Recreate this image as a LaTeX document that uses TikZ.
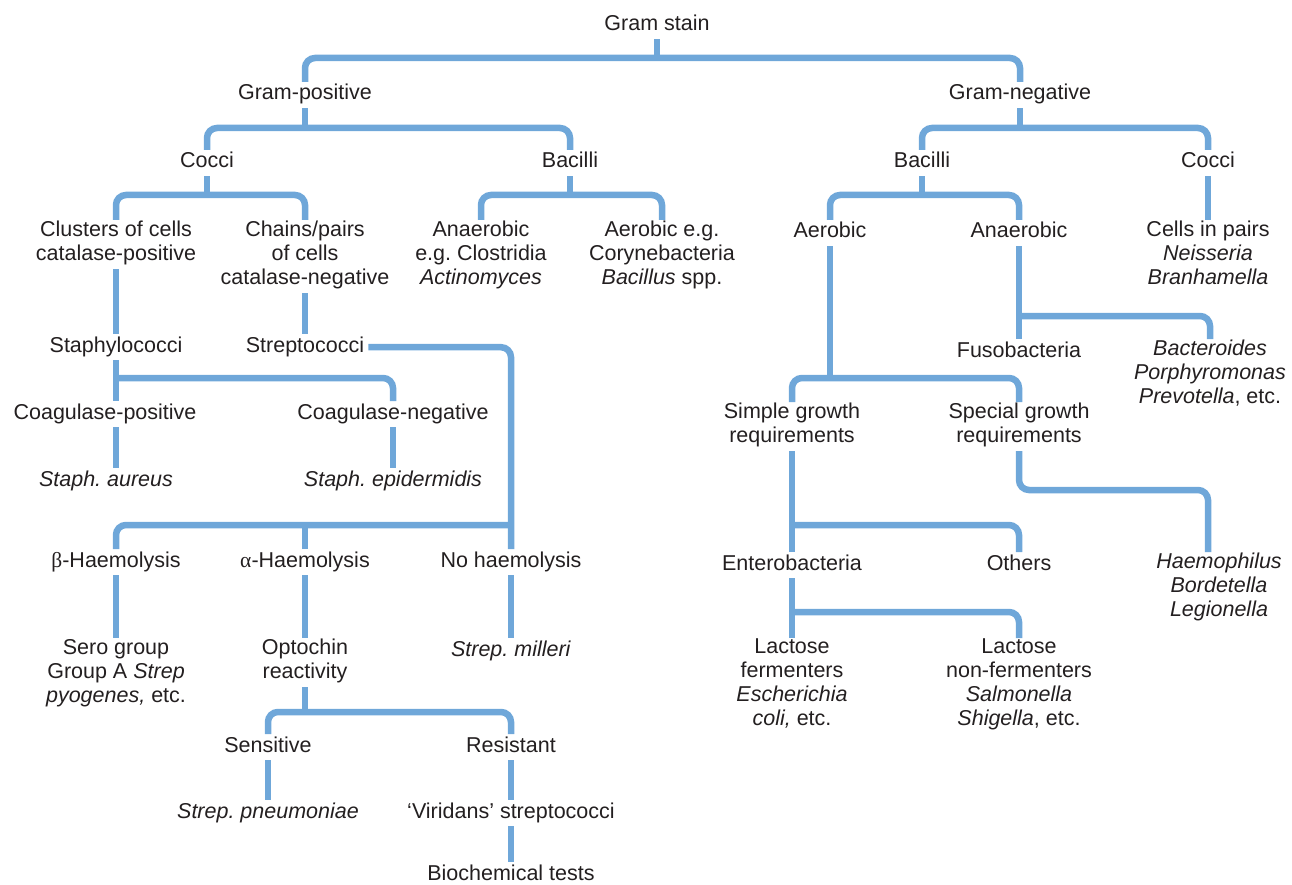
\documentclass[tikz,border=0pt]{standalone}
\usepackage{fontspec}
\setmainfont{Liberation Sans}
\newfontfamily\grk{Liberation Serif}
\frenchspacing
\definecolor{linkblue}{RGB}{111,167,217}
\definecolor{txt}{RGB}{35,31,32}
\tikzset{
  lbl/.style={anchor=north, align=center, inner xsep=4pt, inner ysep=1pt, text=txt,
    font=\fontsize{21.5}{24}\selectfont\frenchspacing, execute at begin node=\strut, execute at end node=\strut},
  link/.style={draw=linkblue, line width=6.5pt},
  rc/.style={link, rounded corners=10pt}
}
\begin{document}
\begin{tikzpicture}[x=1pt,y=-1pt]
\useasboundingbox (0,0) rectangle (1292,885);
% bar levels
\coordinate (y58) at (0,58);
\coordinate (y128) at (0,128);
\coordinate (y195) at (0,195);
\coordinate (y315) at (0,316);
\coordinate (y378) at (0,378);
\coordinate (y490) at (0,490);
\coordinate (y525) at (0,525);
\coordinate (y612) at (0,612);
\coordinate (y712) at (0,712);
% nodes (first baseline - 17.8)
\node[lbl] (gs) at (657,13) {Gram stain};
\node[lbl] (gpos) at (305,82) {Gram-positive};
\node[lbl] (gneg) at (1020,82) {Gram-negative};
\node[lbl] (cocciP) at (207,150) {Cocci};
\node[lbl] (bacP) at (570,150) {Bacilli};
\node[lbl] (bacN) at (922,150) {Bacilli};
\node[lbl] (cocciN) at (1208,150) {Cocci};
\node[lbl] (clusters) at (116,220) {Clusters of cells\\catalase-positive};
\node[lbl] (chains) at (305,220) {Chains/pairs\\of cells\\catalase-negative};
\node[lbl] (anaerP) at (481,220) {Anaerobic\\e.g. Clostridia\\\textit{Actinomyces}};
\node[lbl] (aerP) at (662,220) {Aerobic e.g.\\Corynebacteria\\\textit{Bacillus} spp.};
\node[lbl] (aerN) at (830,220) {Aerobic};
\node[lbl] (anaerN) at (1019,220) {Anaerobic};
\node[lbl] (pairs) at (1208,220) {Cells in pairs\\\textit{Neisseria}\\\textit{Branhamella}};
\node[lbl] (staph) at (116,334) {Staphylococci};
\node[lbl] (strep) at (305,334) {Streptococci};
\node[lbl] (fuso) at (1019,339) {Fusobacteria};
\node[lbl] (bact) at (1210,339) {\textit{Bacteroides}\\\textit{Porphyromonas}\\\textit{Prevotella}, etc.};
\node[lbl] (coagpos) at (105,401) {Coagulase-positive};
\node[lbl] (coagneg) at (393,401) {Coagulase-negative};
\node[lbl] (simple) at (792,402) {Simple growth\\requirements};
\node[lbl] (special) at (1019,402) {Special growth\\requirements};
\node[lbl] (aureus) at (106,468) {\textit{Staph. aureus}};
\node[lbl] (epid) at (393,468) {\textit{Staph. epidermidis}};
\node[lbl] (beta) at (116,549) {{\grk β}-Haemolysis};
\node[lbl] (alpha) at (305,549) {{\grk α}-Haemolysis};
\node[lbl] (nohaem) at (511,549) {No haemolysis};
\node[lbl] (entero) at (792,552) {Enterobacteria};
\node[lbl] (others) at (1019,552) {Others};
\node[lbl] (haemo) at (1219,552) {\textit{Haemophilus}\\\textit{Bordetella}\\\textit{Legionella}};
\node[lbl] (sero) at (116,638) {Sero group\\Group A \textit{Strep}\\\textit{pyogenes,} etc.};
\node[lbl] (opto) at (305,638) {Optochin\\reactivity};
\node[lbl] (milleri) at (511,638) {\textit{Strep. milleri}};
\node[lbl] (lacf) at (792,638) {Lactose\\fermenters\\\textit{Escherichia}\\\textit{coli,} etc.};
\node[lbl] (lacnf) at (1019,638) {Lactose\\non-fermenters\\\textit{Salmonella}\\\textit{Shigella}, etc.};
\node[lbl] (sens) at (268,734) {Sensitive};
\node[lbl] (resist) at (511,734) {Resistant};
\node[lbl] (pneumo) at (268,800) {\textit{Strep. pneumoniae}};
\node[lbl] (viridans) at (511,800) {‘Viridans’ streptococci};
\node[lbl, execute at end node={}] (biochem) at (511,862) {Biochemical tests};
% connectors
\draw[link] (gs.south) -- (gs.south |- y58);
\draw[rc] (gpos.north) |- (gneg.north |- y58) -- (gneg.north);
\draw[link] (gpos.south) -- (gpos.south |- y128);
\draw[rc] (cocciP.north) |- (bacP.north |- y128) -- (bacP.north);
\draw[link] (gneg.south) -- (gneg.south |- y128);
\draw[rc] (bacN.north) |- (cocciN.north |- y128) -- (cocciN.north);
\draw[link] (cocciP.south) -- (cocciP.south |- y195);
\draw[rc] (clusters.north) |- (chains.north |- y195) -- (chains.north);
\draw[link] (bacP.south) -- (bacP.south |- y195);
\draw[rc] (anaerP.north) |- (aerP.north |- y195) -- (aerP.north);
\draw[link] (bacN.south) -- (bacN.south |- y195);
\draw[rc] (aerN.north) |- (anaerN.north |- y195) -- (anaerN.north);
\draw[link] (cocciN.south) -- (cocciN.south |- pairs.north);
\draw[link] (clusters.south) -- (clusters.south |- staph.north);
\draw[link] (chains.south) -- (chains.south |- strep.north);
\draw[rc] (strep.east) -| (nohaem.north);
\draw[rc] (beta.north) |- (nohaem.north |- y525);
\draw[link] (alpha.north) -- (alpha.north |- y525);
\draw[link] (staph.south) -- (staph.south |- coagpos.north);
\draw[rc] (staph.south |- y378) -| (coagneg.north);
\draw[link] (coagpos.south -| staph.south) -- (staph.south |- aureus.north);
\draw[link] (coagneg.south) -- (coagneg.south |- epid.north);
\draw[link] (beta.south) -- (beta.south |- sero.north);
\draw[link] (alpha.south) -- (alpha.south |- opto.north);
\draw[link] (nohaem.south) -- (nohaem.south |- milleri.north);
\draw[link] (opto.south) -- (opto.south |- y712);
\draw[rc] (sens.north) |- (resist.north |- y712) -- (resist.north);
\draw[link] (sens.south) -- (sens.south |- pneumo.north);
\draw[link] (resist.south) -- (resist.south |- viridans.north);
\draw[link] (viridans.south) -- (viridans.south |- biochem.north);
\draw[link] (aerN.south) -- (aerN.south |- y378);
\draw[rc] (simple.north) |- (special.north |- y378) -- (special.north);
\draw[link] (anaerN.south) -- (anaerN.south |- fuso.north);
\draw[rc] (anaerN.south |- y315) -| (bact.north);
\draw[link] (simple.south) -- (simple.south |- entero.north);
\draw[rc] (simple.south |- y525) -| (others.north);
\draw[rc] (special.south) |- (cocciN.south |- y490) -- (cocciN.south |- haemo.north);
\draw[link] (entero.south) -- (entero.south |- lacf.north);
\draw[rc] (entero.south |- y612) -| (lacnf.north);
\end{tikzpicture}
\end{document}
